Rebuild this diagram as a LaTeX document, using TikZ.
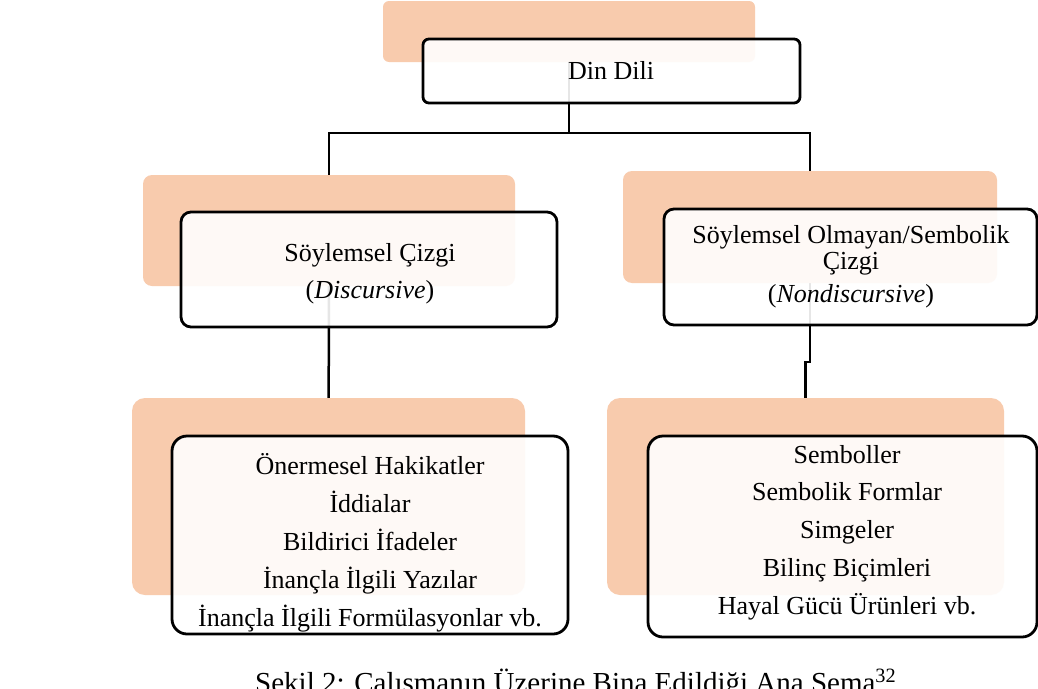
\documentclass[tikz,border=0pt]{standalone}
\usepackage{fontspec}
\setmainfont{Liberation Serif}
\definecolor{backorange}{HTML}{F8CBAD}
\pgfdeclarelayer{bottom}
\pgfdeclarelayer{background}
\pgfsetlayers{bottom,background,main}
\tikzset{
  backbox/.style={shape=rectangle, fill=backorange, draw=none, outer sep=0pt, inner sep=0pt},
  frontbox/.style={shape=rectangle, draw=black, line width=2.8pt, fill=white, fill opacity=0.9, draw opacity=1, outer sep=0pt, inner sep=0pt},
  conn/.style={draw=black, line width=2.5pt},
  boxtext/.style={anchor=base, inner sep=0pt, font=\fontsize{26}{26}\selectfont},
  captext/.style={anchor=base west, inner sep=0pt, font=\fontsize{29}{29}\selectfont}
}
\begin{document}
\begin{tikzpicture}[x=1pt,y=-1pt]
\useasboundingbox (0,0) rectangle (1038,688);
\clip (0,0) rectangle (1038,688);
\begin{pgfonlayer}{bottom}
\fill[white] (0,0) rectangle (1038,688);
\end{pgfonlayer}

% back boxes
\node[backbox, rounded corners=6pt, minimum width=372pt, minimum height=61pt] (dlback) at (569,31.5) {};
\node[backbox, rounded corners=9pt, minimum width=372pt, minimum height=111pt] (scback) at (329,230.5) {};
\node[backbox, rounded corners=9pt, minimum width=374pt, minimum height=112pt] (ndback) at (810,227) {};
\node[backbox, rounded corners=13pt, minimum width=393pt, minimum height=197pt] (llback) at (328.5,496.5) {};
\node[backbox, rounded corners=13pt, minimum width=397pt, minimum height=197pt] (lrback) at (805.5,496.5) {};

% connectors (behind the boxes)
\coordinate (bus) at (0,133);
\coordinate (jog) at (0,362);
\begin{pgfonlayer}{background}
\draw[conn] (dlback.center) -- (dlback.center |- bus) -| (scback.center);
\draw[conn] (dlback.center |- bus) -| (ndback.center);
\draw[conn] (scback.center) -- (llback.center);
\draw[conn] (ndback.center) -- (ndback.center |- jog) -- (lrback.center |- jog) -- (lrback.center);
\end{pgfonlayer}

% front boxes
\node[frontbox, rounded corners=6pt, minimum width=377pt, minimum height=64pt] (dlfront) at (611.5,71) {};
\node[frontbox, rounded corners=10pt, minimum width=376pt, minimum height=115pt] (scfront) at (369,269.5) {};
\node[frontbox, rounded corners=10pt, minimum width=373pt, minimum height=116pt] (ndfront) at (850.5,267) {};
\node[frontbox, rounded corners=15pt, minimum width=396pt, minimum height=198pt] (llfront) at (370,535) {};
\node[frontbox, rounded corners=15pt, minimum width=389pt, minimum height=201pt] (lrfront) at (842.5,536.5) {};

% texts
\node[boxtext] (t0) at (611,79) {Din Dili};
\node[boxtext] (t1) at (370,261) {Söylemsel Çizgi};
\node[boxtext] (t2) at (370,298) {(\textit{Discursive})};
\node[boxtext] (t3) at (851,243) {Söylemsel Olmayan/Sembolik};
\node[boxtext] (t4) at (851,269) {Çizgi};
\node[boxtext] (t5) at (851,302) {(\textit{Nondiscursive})};
\node[boxtext] (t6) at (370,474) {Önermesel Hakikatler};
\node[boxtext] (t7) at (370,512) {İddialar};
\node[boxtext] (t8) at (370,550) {Bildirici İfadeler};
\node[boxtext] (t9) at (370,588) {İnançla İlgili Yazılar};
\node[boxtext] (t10) at (370,626) {İnançla İlgili Formülasyonlar vb.};
\node[boxtext] (t11) at (847,463) {Semboller};
\node[boxtext] (t12) at (847,500.5) {Sembolik Formlar};
\node[boxtext] (t13) at (847,538) {Simgeler};
\node[boxtext] (t14) at (847,576) {Bilinç Biçimleri};
\node[boxtext] (t15) at (847,614) {Hayal Gücü Ürünleri vb.};

% caption
\node[captext] (cap) at (255,692) {Şekil 2: Çalışmanın Üzerine Bina Edildiği Ana Şema\textsuperscript{32}};
\end{tikzpicture}
\end{document}
